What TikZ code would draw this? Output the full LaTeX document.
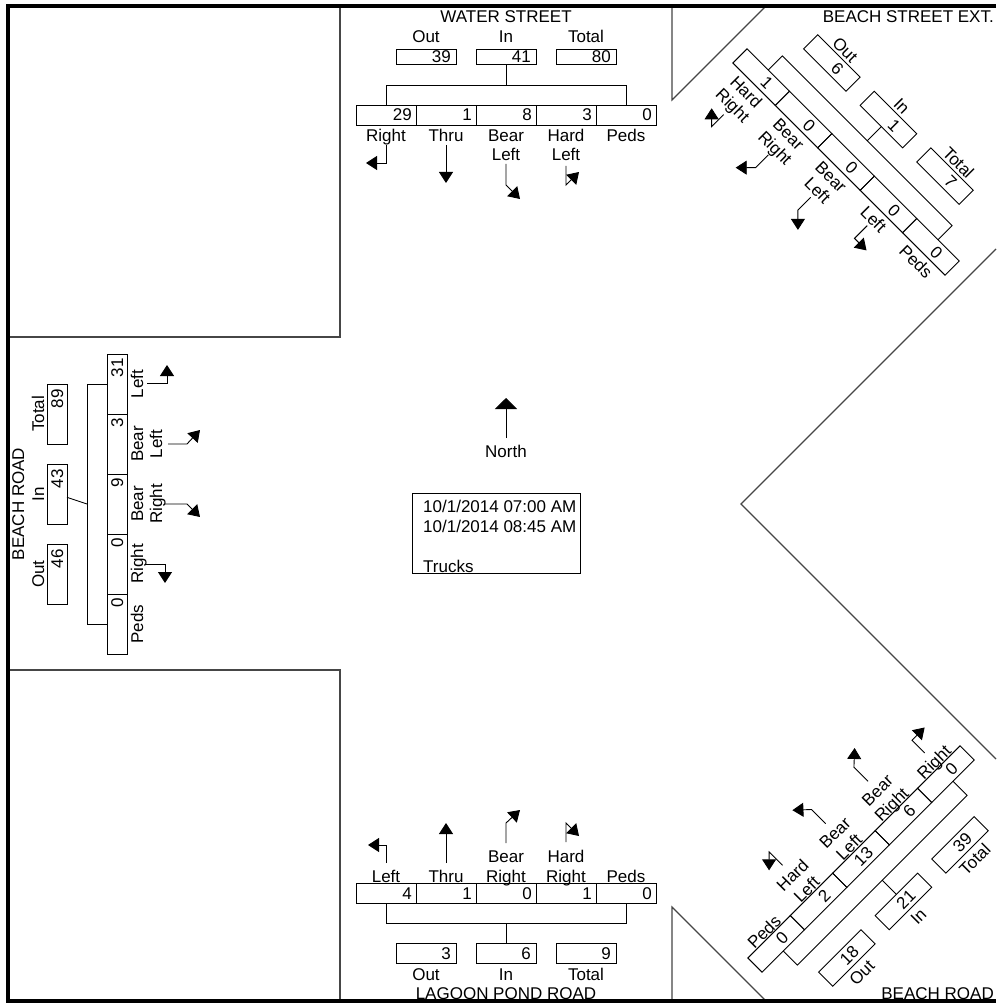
\documentclass[tikz,border=0pt]{standalone}
\usepackage{fontspec}
\setmainfont{Liberation Sans}
\usetikzlibrary{arrows.meta}
\definecolor{blkgray}{RGB}{70,70,70}
\newcommand\myfs{\fontsize{17}{19}\selectfont}
% movement row: prefix, east offset, five numbers
\newcommand\mrow[7]{%
 \node[mbox] (#1a) at (-120,0) {};
 \node[mbox] (#1b) at (-60,0) {};
 \node[mbox] (#1c) at (0,0) {};
 \node[mbox] (#1d) at (60,0) {};
 \node[mbox] (#1e) at (120,0) {};
 \node[num] (#1an) at (-120+#2,6) {#3};
 \node[num] (#1bn) at (-60+#2,6) {#4};
 \node[num] (#1cn) at (#2,6) {#5};
 \node[num] (#1dn) at (60+#2,6) {#6};
 \node[num] (#1en) at (120+#2,6) {#7};}
% out/in/total boxes: prefix, v centre, u shift, east offset, style, out, in, total
\newcommand\oit[8]{%
 \node[#5] (#1o) at (-80+#3,#2) {};
 \node[#5] (#1i) at (#3,#2) {};
 \node[#5] (#1t) at (80+#3,#2) {};
 \node[num] (#1on) at (-80+#3+#4,#2+6) {#6};
 \node[num] (#1in) at (#3+#4,#2+6) {#7};
 \node[num] (#1tn) at (80+#3+#4,#2+6) {#8};}
% out/in/total labels: prefix, baseline v, u shift
\newcommand\oitl[3]{%
 \node[lbl] (#1ol) at (-80+#3,#2) {Out};
 \node[lbl] (#1il) at (#3,#2) {In};
 \node[lbl] (#1tl) at (80+#3,#2) {Total};}
% bracket: prefix, v of box edge, v of bar, v of stem end
\newcommand\brk[4]{%
 \coordinate (#1k1) at (-120,#2); \coordinate (#1k2) at (-120,#3);
 \coordinate (#1k3) at (120,#3); \coordinate (#1k4) at (120,#2);
 \coordinate (#1k5) at (0,#3);
 \draw[ln] (#1k1) -- (#1k2) -- (#1k3) -- (#1k4);
 \draw[ln] (#1k5) -- (#1i);}
% turning arrow and straight arrow
\newcommand\turn[4]{\coordinate (#1s) at #2; \coordinate (#1m) at #3; \coordinate (#1e) at #4;
 \draw[mv] (#1s) -- (#1m) -- (#1e);}
\newcommand\straight[3]{\coordinate (#1s) at #2; \coordinate (#1e) at #3;
 \draw[mv] (#1s) -- (#1e);}
\begin{document}
\begin{tikzpicture}[x=1pt,y=-1pt,
 ln/.style={line width=0.9pt},
 mbox/.style={draw, line width=0.9pt, rectangle, minimum width=60pt, minimum height=20pt, inner sep=0pt, outer sep=0pt},
 sbox/.style={mbox, minimum height=15pt},
 num/.style={anchor=base east, inner sep=0pt, font=\myfs},
 lbl/.style={anchor=base, inner sep=0pt, font=\myfs},
 mv/.style={line width=0.9pt, -{Triangle[width=14pt,length=11pt]}},
 blk/.style={draw=blkgray, line width=1.2pt}]
\useasboundingbox (0,0) rectangle (996,1003);
\fill[white] (0,0) rectangle (996,1003);

% ---------- background blocks ----------
\draw[blk] (340,8) -- (340,337) -- (10,337);
\draw[blk] (10,670) -- (340,670) -- (340,999);
\draw[blk] (672,8) -- (672,100) -- (766,6);
\draw[blk] (672,999) -- (672,907) -- (766,1001);
\draw[blk] (996,249) -- (741,504) -- (996,759);

% ---------- WATER STREET (top) ----------
\begin{scope}[shift={(506,115)}, every node/.append style={transform shape}]
 \mrow{w}{26}{29}{1}{8}{3}{0}
 \node[lbl] (wl1) at (-120,27) {Right};
 \node[lbl] (wl2) at (-60,27) {Thru};
 \node[lbl] (wl3) at (0,27) {Bear};
 \node[lbl] (wl3b) at (0,46) {Left};
 \node[lbl] (wl4) at (60,27) {Hard};
 \node[lbl] (wl4b) at (60,46) {Left};
 \node[lbl] (wl5) at (120,27) {Peds};
 \oit{w}{-58.5}{0}{25}{sbox}{39}{41}{80}
 \oitl{w}{-72}{0}
 \node[lbl] (wname) at (0,-92) {WATER STREET};
 \brk{w}{-10}{-30}{-51}
 \turn{wR}{(-120,30)}{(-120,48)}{(-140,48)}
 \straight{wT}{(-60,30)}{(-60,68)}
 \turn{wBL}{(0,49)}{(0,70)}{(14,84)}
 \turn{wHL}{(60,51)}{(60,70)}{(73,57)}
\end{scope}

% ---------- LAGOON POND ROAD (bottom) ----------
\begin{scope}[shift={(506,893)}, every node/.append style={transform shape}]
 \mrow{g}{26}{4}{1}{0}{1}{0}
 \node[lbl] (gl1) at (-120,-11) {Left};
 \node[lbl] (gl2) at (-60,-11) {Thru};
 \node[lbl] (gl3) at (0,-31) {Bear};
 \node[lbl] (gl3b) at (0,-11) {Right};
 \node[lbl] (gl4) at (60,-31) {Hard};
 \node[lbl] (gl4b) at (60,-11) {Right};
 \node[lbl] (gl5) at (120,-11) {Peds};
 \oit{g}{60}{0}{25}{mbox}{3}{6}{9}
 \oitl{g}{87}{0}
 \node[lbl] (gname) at (0,106.5) {LAGOON POND ROAD};
 \brk{g}{10}{30}{50}
 \turn{gL}{(-120,-30)}{(-120,-48)}{(-138,-48)}
 \straight{gT}{(-60,-30)}{(-60,-70)}
 \turn{gBR}{(0,-50)}{(0,-70)}{(14,-83)}
 \turn{gHR}{(60,-51)}{(60,-70)}{(73,-57)}
\end{scope}

% ---------- BEACH ROAD (left) ----------
\begin{scope}[shift={(117,504)}, rotate=90, every node/.append style={transform shape}]
 \mrow{b}{26}{0}{0}{9}{3}{31}
 \node[lbl] (bl1) at (-120,26) {Peds};
 \node[lbl] (bl2) at (-60,26) {Right};
 \node[lbl] (bl3) at (0,26) {Bear};
 \node[lbl] (bl3b) at (0,45) {Right};
 \node[lbl] (bl4) at (60,26) {Bear};
 \node[lbl] (bl4b) at (60,45) {Left};
 \node[lbl] (bl5) at (120,26) {Left};
 \oit{b}{-60}{10}{25}{mbox}{46}{43}{89}
 \oitl{b}{-73}{10}
 \node[lbl] (bname) at (0,-93) {BEACH ROAD};
 \brk{b}{-10}{-30}{-50}
 \turn{bL}{(121,30)}{(121,50)}{(139,50)}
 \turn{bBL}{(60,51)}{(60,70)}{(74,83)}
 \turn{bBR}{(0,48)}{(0,70)}{(-13,83)}
 \turn{bR}{(-60,28)}{(-60,48)}{(-79,48)}
\end{scope}

% ---------- BEACH STREET EXT. (top right) ----------
\begin{scope}[shift={(846,162)}, rotate=-45, every node/.append style={transform shape}]
 \mrow{e}{13}{1}{0}{0}{0}{0}
 \node[lbl] (el1) at (-120,27) {Hard};
 \node[lbl] (el1b) at (-120,46) {Right};
 \node[lbl] (el2) at (-60,27) {Bear};
 \node[lbl] (el2b) at (-60,46) {Right};
 \node[lbl] (el3) at (0,27) {Bear};
 \node[lbl] (el3b) at (0,46) {Left};
 \node[lbl] (el4) at (60,27) {Left};
 \node[lbl] (el5) at (120,27) {Peds};
 \oit{e}{-60}{0}{13}{mbox}{6}{1}{7}
 \oitl{e}{-73}{0}
 \brk{e}{-10}{-30}{-50}
 \turn{eHR}{(-120,53)}{(-120,70)}{(-133,57)}
 \turn{eBR}{(-60,50)}{(-60,68)}{(-74,82)}
 \turn{eBL}{(0,50)}{(0,68)}{(14,82)}
 \turn{eL}{(60,30)}{(60,48)}{(77,48)}
\end{scope}
\node[lbl, anchor=base east] (ename) at (994,23) {BEACH STREET EXT.};

% ---------- BEACH ROAD (bottom right) ----------
\begin{scope}[shift={(861,859)}, rotate=45, every node/.append style={transform shape}]
 \mrow{r}{13}{0}{2}{13}{6}{0}
 \node[lbl] (rl1) at (-120,-11) {Peds};
 \node[lbl] (rl2) at (-60,-31) {Hard};
 \node[lbl] (rl2b) at (-60,-11) {Left};
 \node[lbl] (rl3) at (0,-31) {Bear};
 \node[lbl] (rl3b) at (0,-11) {Left};
 \node[lbl] (rl4) at (60,-31) {Bear};
 \node[lbl] (rl4b) at (60,-11) {Right};
 \node[lbl] (rl5) at (120,-11) {Right};
 \oit{r}{60}{0}{13}{mbox}{18}{21}{39}
 \oitl{r}{87}{0}
 \brk{r}{10}{30}{50}
 \turn{rHL}{(-60,-51)}{(-60,-70)}{(-73,-57)}
 \turn{rBL}{(0,-50)}{(0,-70)}{(-14,-83)}
 \turn{rBR}{(60,-50)}{(60,-70)}{(74,-83)}
 \turn{rR}{(120,-30)}{(120,-48)}{(138,-48)}
\end{scope}
\node[lbl, anchor=base east] (rname) at (994,999.5) {BEACH ROAD};

% ---------- centre ----------
\node[lbl] (north) at (506,457) {North};
\coordinate (nbase) at (506,438);
\coordinate (ntip) at (506,398);
\draw[line width=0.9pt, -{Triangle[width=22pt,length=11pt]}] (nbase) -- (ntip);
\node[draw, line width=0.9pt, anchor=north west, minimum width=168pt, minimum height=80pt, inner sep=0pt] (info) at (412,493) {};
\node[lbl, anchor=base west] (d1) at (423,512) {10/1/2014 07:00 AM};
\node[lbl, anchor=base west] (d2) at (423,532) {10/1/2014 08:45 AM};
\node[lbl, anchor=base west] (d3) at (423,572) {Trucks};

% ---------- frame ----------
\draw[line width=4pt] (996,6) -- (8,6) -- (8,1001) -- (996,1001);
\end{tikzpicture}
\end{document}
